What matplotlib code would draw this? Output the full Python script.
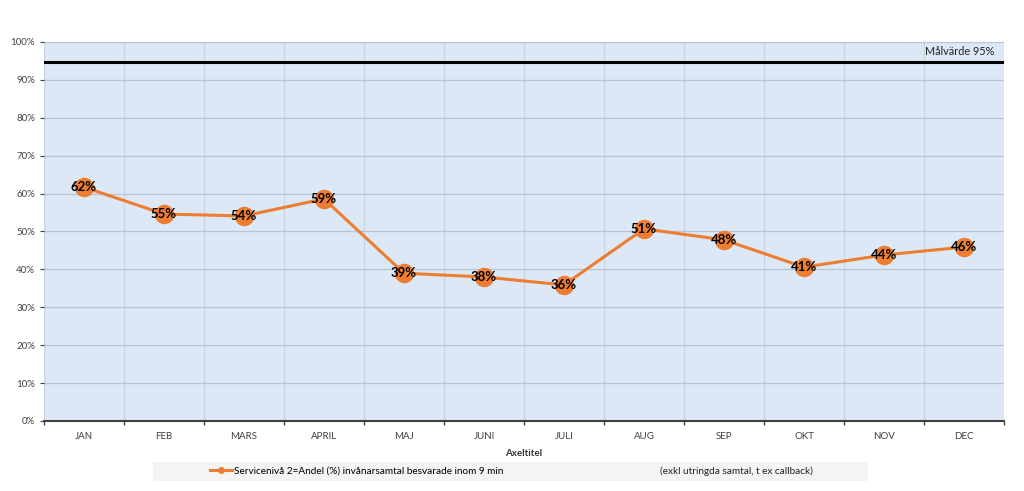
import matplotlib
matplotlib.use("Agg")
import matplotlib.pyplot as plt
from matplotlib.patches import Rectangle
from matplotlib.lines import Line2D
import numpy as np

months = ["JAN", "FEB", "MARS", "APRIL", "MAJ", "JUNI", "JULI", "AUG", "SEP", "OKT", "NOV", "DEC"]
values = [62, 55, 54, 59, 39, 38, 36, 51, 48, 41, 44, 46]
positions = [61.7, 54.6, 54.1, 58.6, 39.0, 38.0, 35.9, 50.7, 47.8, 40.6, 43.8, 45.9]
target = 94.6
series_label = "Servicenivå 2=Andel (%) invånarsamtal besvarade inom 9 min"
note_label = "(exkl utringda samtal, t ex callback)"
target_label = "Målvärde 95%"
axis_title = "Axeltitel"

plt.rcParams['font.family'] = ['Lato', 'DejaVu Sans']

fig = plt.figure(figsize=(10.24, 4.91), dpi=100)
ax = fig.add_axes([44/1024, 1-421/491, 960/1024, 379/491])
ax.set_facecolor("#dce8f5")

x = np.arange(len(months))
orange = "#ed7d31"
ax.plot(x, positions, color=orange, lw=2.2, marker="o", ms=13, mfc=orange, mec=orange, zorder=3)
for xi, yi, v in zip(x, positions, values):
    ax.text(xi, yi, f"{v}%", ha="center", va="center", fontsize=9.5, fontweight="bold", color="black", zorder=4)

ax.axhline(target, color="black", lw=2.2, zorder=2)
ax.text(len(months) - 0.62, 97.4, target_label, ha="right", va="center", fontsize=7.8, color="#222222")

ax.set_xlim(-0.5, len(months) - 0.5)
ax.set_ylim(0, 100)
ax.set_yticks(np.arange(0, 101, 10))
ax.set_yticklabels([f"{t}%" for t in range(0, 101, 10)], fontsize=7, color="#404040")
ax.set_xticks(x)
ax.set_xticklabels(months, fontsize=7, color="#404040")
ax.tick_params(axis="x", length=0, pad=8)
ax.tick_params(axis="y", length=3, color="#404040")
ax.set_xticks(np.arange(-0.5, len(months)), minor=True)
ax.tick_params(axis="x", which="minor", length=3, color="#404040", width=1)

ax.grid(axis="y", color="#b8c4d2", lw=0.9)
ax.grid(axis="x", which="minor", color="#c8d4e0", lw=0.9)
ax.grid(axis="x", which="major", visible=False)
ax.set_axisbelow(True)
for s in ["top", "right", "left"]:
    ax.spines[s].set_visible(False)
ax.spines["bottom"].set_color("#404040")
ax.spines["bottom"].set_linewidth(1.5)

ax.set_xlabel(axis_title, fontsize=7, fontweight="bold", color="#333333", labelpad=6)

# legend area
fig.patches.append(Rectangle((153/1024, 1-481/491), 715/1024, 19/491, transform=fig.transFigure,
                             facecolor="#f4f4f4", edgecolor="none", zorder=0))
handle = Line2D([0], [0], color=orange, lw=2.2, marker="o", ms=4, mfc=orange)
fig.legend([handle], [series_label], loc="center left", bbox_to_anchor=(205/1024, 1-471/491),
           frameon=False, fontsize=7.2, handlelength=2.2, handletextpad=0.2, borderpad=0)
fig.text(660/1024, 1-471/491, note_label, ha="left", va="center", fontsize=7.2, color="#222222")

fig.savefig("out.png", dpi=100, facecolor="white")
